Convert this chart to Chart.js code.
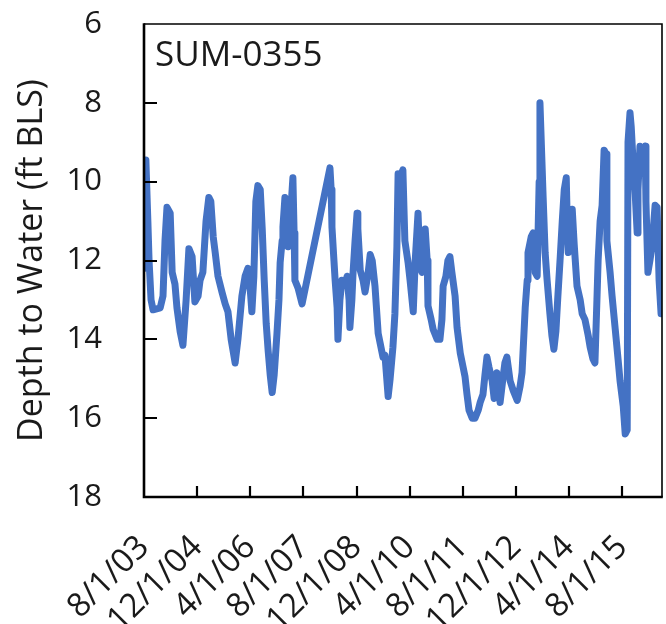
<!DOCTYPE html>
<html>
<head>
<meta charset="utf-8">
<script src="https://cdn.jsdelivr.net/npm/chart.js@4.4.1/dist/chart.umd.min.js"></script>
<style>
  html, body { margin: 0; padding: 0; background: #fff; overflow: hidden; }
  #chartPoco { display: block; }
</style>
</head>
<body>
<canvas id="chartPoco" width="666" height="624"></canvas>
<script>
// Dados (ano decimal, profundidade em ft abaixo do solo)
const wellName = 'SUM-0355';
const yearDecimal = [
  2003.58, 2003.63, 2003.68, 2003.71, 2003.76, 2003.81, 2003.99, 2004.06, 2004.11, 2004.16,
  2004.24, 2004.29, 2004.36, 2004.41, 2004.49, 2004.56, 2004.64, 2004.71, 2004.79, 2004.86,
  2004.94, 2004.99, 2005.06, 2005.14, 2005.21, 2005.26, 2005.32, 2005.37, 2005.44, 2005.54,
  2005.62, 2005.69, 2005.77, 2005.87, 2005.94, 2006.04, 2006.12, 2006.19, 2006.24, 2006.29,
  2006.34, 2006.39, 2006.44, 2006.50, 2006.55, 2006.60, 2006.65, 2006.70, 2006.75, 2006.80,
  2006.85, 2006.92, 2006.97, 2007.00, 2007.05, 2007.07, 2007.12, 2007.17, 2007.20, 2007.25,
  2007.32, 2007.35, 2007.37, 2007.45, 2007.55, 2008.25, 2008.28, 2008.30, 2008.35, 2008.38,
  2008.43, 2008.45, 2008.50, 2008.55, 2008.63, 2008.68, 2008.73, 2008.75, 2008.80, 2008.83,
  2008.88, 2008.93, 2008.95, 2009.01, 2009.08, 2009.13, 2009.21, 2009.26, 2009.31, 2009.38,
  2009.46, 2009.51, 2009.58, 2009.63, 2009.71, 2009.76, 2009.83, 2009.88, 2009.93, 2009.96,
  2010.01, 2010.08, 2010.13, 2010.21, 2010.26, 2010.34, 2010.39, 2010.46, 2010.51, 2010.56,
  2010.64, 2010.69, 2010.71, 2010.79, 2010.84, 2010.94, 2011.01, 2011.06, 2011.09, 2011.16,
  2011.21, 2011.26, 2011.31, 2011.39, 2011.44, 2011.52, 2011.59, 2011.64, 2011.69, 2011.74,
  2011.82, 2011.89, 2011.97, 2012.02, 2012.09, 2012.14, 2012.19, 2012.24, 2012.32, 2012.37,
  2012.44, 2012.49, 2012.52, 2012.59, 2012.64, 2012.69, 2012.77, 2012.85, 2012.95, 2013.02,
  2013.07, 2013.15, 2013.20, 2013.22, 2013.30, 2013.35, 2013.40, 2013.45, 2013.50, 2013.52,
  2013.57, 2013.60, 2013.65, 2013.70, 2013.77, 2013.82, 2013.87, 2013.92, 2013.97, 2014.03,
  2014.08, 2014.13, 2014.18, 2014.20, 2014.23, 2014.28, 2014.33, 2014.38, 2014.45, 2014.53,
  2014.58, 2014.65, 2014.73, 2014.78, 2014.85, 2014.90, 2014.95, 2014.98, 2015.03, 2015.08,
  2015.13, 2015.18, 2015.20, 2015.28, 2015.33, 2015.41, 2015.48, 2015.53, 2015.61, 2015.66,
  2015.71, 2015.73, 2015.78, 2015.81, 2015.86, 2015.91, 2015.96, 2015.98, 2016.03, 2016.11,
  2016.16, 2016.18, 2016.23, 2016.28, 2016.33, 2016.41, 2016.46, 2016.51, 2016.56
];
const depthFt = [
  12.2, 9.45, 11.0, 12.0, 13.0, 13.25, 13.2, 12.9, 11.5, 10.65,
  10.8, 12.3, 12.6, 13.2, 13.8, 14.15, 13.0, 11.7, 11.9, 13.05,
  12.9, 12.5, 12.3, 11.0, 10.4, 10.5, 11.4, 11.8, 12.4, 12.8,
  13.1, 13.3, 14.0, 14.6, 14.0, 12.9, 12.4, 12.2, 12.6, 13.3,
  12.4, 10.5, 10.1, 10.2, 11.2, 12.5, 13.6, 14.3, 14.9, 15.35,
  14.9, 13.85, 13.0, 12.05, 11.5, 11.15, 10.4, 11.3, 11.65, 11.0,
  9.9, 11.3, 12.5, 12.7, 13.1, 9.65, 10.2, 11.15, 12.0, 12.5,
  13.2, 14.0, 13.0, 12.5, 12.6, 12.4, 13.0, 13.7, 13.0, 12.3,
  11.5, 10.8, 11.2, 12.25, 12.5, 12.8, 12.3, 11.85, 12.0, 12.65,
  13.85, 14.1, 14.45, 14.4, 15.45, 15.0, 14.2, 13.35, 11.65, 9.8,
  9.9, 9.7, 11.5, 12.05, 12.5, 13.3, 12.0, 10.8, 12.15, 12.3,
  11.2, 12.0, 13.15, 13.5, 13.75, 14.0, 14.0, 13.5, 12.65, 12.4,
  12.0, 11.9, 12.3, 12.9, 13.7, 14.35, 14.7, 14.95, 15.4, 15.8,
  16.0, 16.0, 15.8, 15.6, 15.4, 14.9, 14.45, 14.7, 15.05, 15.5,
  14.85, 15.2, 15.6, 15.0, 14.6, 14.45, 15.05, 15.3, 15.55, 15.2,
  14.85, 13.2, 12.5, 11.8, 11.4, 11.3, 12.3, 12.4, 10.0, 8.0,
  9.5, 10.4, 11.8, 12.5, 13.35, 13.9, 14.25, 13.8, 12.9, 11.9,
  11.0, 10.2, 9.9, 10.8, 11.8, 11.0, 10.7, 11.6, 12.65, 13.0,
  13.35, 13.5, 13.9, 14.2, 14.5, 14.6, 13.0, 12.0, 11.0, 10.6,
  9.2, 9.3, 11.5, 12.3, 12.9, 13.75, 14.5, 15.05, 15.7, 16.4,
  16.3, 9.0, 8.25, 8.6, 9.55, 10.3, 11.3, 10.2, 9.1, 9.2,
  9.1, 10.5, 12.3, 12.0, 11.65, 10.6, 10.65, 12.5, 13.35
];
// Marcas do eixo X (datas em ano decimal) e seus rótulos
const tickYears = [2003.583, 2004.917, 2006.25, 2007.583, 2008.917, 2010.25, 2011.583, 2012.917, 2014.25, 2015.583];
const tickLabels = ['8/1/03', '12/1/04', '4/1/06', '8/1/07', '12/1/08', '4/1/10', '8/1/11', '12/1/12', '4/1/14', '8/1/15'];
const xMin = 2003.583;
const xMax = 2016.583;

const FONT = '"Open Sans", "DejaVu Sans", sans-serif';
const TEXT_COLOR = '#1a1a1a';

// Moldura, marcas internas e nome do poço
const framePlugin = {
  id: 'framePlugin',
  afterDatasetsDraw(chart) {
    const { ctx, chartArea: a, scales } = chart;
    ctx.save();
    ctx.strokeStyle = '#000';
    // topo e direita (mais finos)
    ctx.lineWidth = 1.6;
    ctx.beginPath();
    ctx.moveTo(a.left, a.top);
    ctx.lineTo(a.right, a.top);
    ctx.lineTo(a.right, a.bottom);
    ctx.stroke();
    // eixos esquerdo e inferior
    ctx.lineWidth = 2.6;
    ctx.beginPath();
    ctx.moveTo(a.left, a.top - 0.8);
    ctx.lineTo(a.left, a.bottom);
    ctx.lineTo(a.right + 0.8, a.bottom);
    ctx.stroke();
    // marcas para dentro
    ctx.lineWidth = 2.2;
    ctx.beginPath();
    scales.y.ticks.forEach(t => {
      if (t.value === 6 || t.value === 18) return;
      const py = Math.round(scales.y.getPixelForValue(t.value));
      ctx.moveTo(a.left, py);
      ctx.lineTo(a.left + 13, py);
    });
    scales.x.ticks.forEach((t, i) => {
      if (i === 0) return;
      const px = Math.round(scales.x.getPixelForValue(t.value));
      ctx.moveTo(px, a.bottom);
      ctx.lineTo(px, a.bottom - 11);
    });
    ctx.stroke();
    // nome do poço
    ctx.fillStyle = TEXT_COLOR;
    ctx.font = '35px ' + FONT;
    ctx.textAlign = 'left';
    ctx.textBaseline = 'alphabetic';
    ctx.fillText(wellName, a.left + 11, a.top + 42);
    ctx.restore();
  }
};

const ctx = document.getElementById('chartPoco').getContext('2d');
new Chart(ctx, {
  type: 'line',
  data: {
    datasets: [{
      label: wellName,
      data: yearDecimal.map((x, i) => ({ x: x, y: depthFt[i] })),
      borderColor: '#4472C4',
      backgroundColor: '#4472C4',
      borderWidth: 7,
      borderJoinStyle: 'round',
      borderCapStyle: 'round',
      pointRadius: 0,
      tension: 0,
      fill: false
    }]
  },
  options: {
    responsive: false,
    animation: false,
    layout: { padding: { top: 24, right: 4, left: 0, bottom: 0 } },
    plugins: {
      legend: { display: false },
      tooltip: { enabled: false }
    },
    scales: {
      x: {
        type: 'linear',
        min: xMin,
        max: xMax,
        grid: { display: false, drawTicks: false },
        border: { display: false },
        afterBuildTicks: (scale) => {
          scale.ticks = tickYears.map(v => ({ value: v }));
        },
        afterFit: (scale) => {
          scale.height = 127;
          scale.paddingLeft = 0;
          scale.paddingRight = 0;
        },
        ticks: {
          autoSkip: false,
          minRotation: 45,
          maxRotation: 45,
          padding: 31,
          color: TEXT_COLOR,
          font: { family: FONT, size: 33 },
          callback: (v, i) => tickLabels[i]
        }
      },
      y: {
        type: 'linear',
        reverse: true,
        min: 6,
        max: 18,
        grid: { display: false, drawTicks: false },
        border: { display: false },
        afterFit: (scale) => {
          scale.width = 144;
          scale.paddingTop = 0;
          scale.paddingBottom = 0;
        },
        title: {
          display: true,
          text: 'Depth to Water (ft BLS)',
          color: TEXT_COLOR,
          font: { family: FONT, size: 34 },
          padding: { top: 12, bottom: 0 }
        },
        ticks: {
          stepSize: 2,
          padding: 42,
          color: TEXT_COLOR,
          font: { family: FONT, size: 31 }
        }
      }
    }
  },
  plugins: [framePlugin]
});
</script>
</body>
</html>
